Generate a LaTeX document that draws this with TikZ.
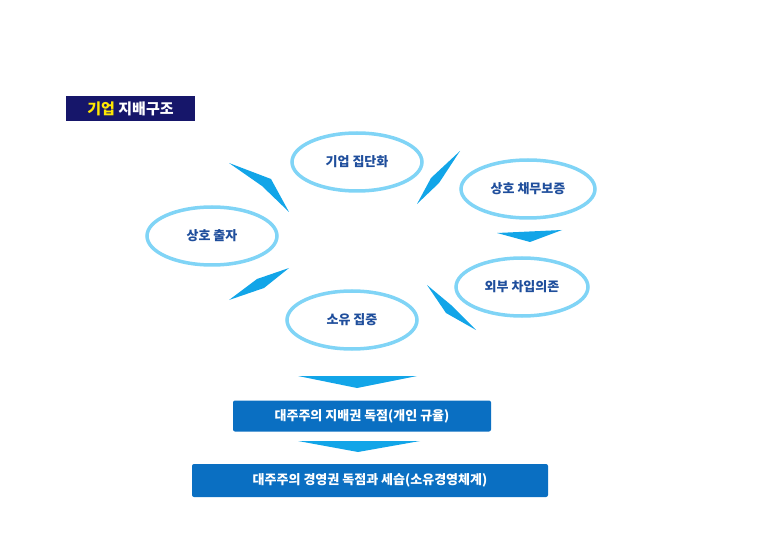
\documentclass[tikz,border=0pt]{standalone}
\usepackage{fontspec}
\setmainfont{Noto Sans CJK KR}
\usetikzlibrary{shapes.geometric}
\definecolor{ringblue}{HTML}{80D4F6}
\definecolor{textblue}{HTML}{1F4E9C}
\definecolor{arrowblue}{HTML}{12A5E8}
\definecolor{boxblue}{HTML}{0A6FC2}
\definecolor{navy}{HTML}{16166A}
\begin{document}
\begin{tikzpicture}[x=1pt,y=-1pt,
    ring/.style={ellipse, draw=ringblue, line width=3.5pt, fill=white, text=textblue,
        font=\bfseries\fontsize{13}{15}\selectfont, minimum width=130pt, minimum height=58pt},
    kite/.style={fill=arrowblue},
    result/.style={fill=boxblue, rounded corners=2pt, text=white,
        font=\bfseries\fontsize{13}{15}\selectfont, minimum height=31pt}]
    \useasboundingbox (0,0) rectangle (760,537);

    % Title
    \node[fill=navy, minimum width=129pt, minimum height=25pt, font=\bfseries\fontsize{15}{17}\selectfont]
        (title) at (130.5,108.5) {\textcolor{yellow!90!orange}{기업} \textcolor{white}{지배구조}};

    % Cycle
    \node[ring] (group) at (357,162) {기업 집단화};
    \node[ring, minimum width=134pt] (guar) at (528,189) {상호 채무보증};
    \node[ring] (cross) at (212,236) {상호 출자};
    \node[ring, minimum width=132pt] (debt) at (522,287) {외부 차입의존};
    \node[ring] (own) at (352,320) {소유 집중};

    % Arrows between rings
    \fill[kite] (229,163) -- (271,179) -- (289,212) -- (262,186) -- cycle;
    \fill[kite] (460,151) -- (439,183) -- (417,204) -- (431,178) -- cycle;
    \fill[kite] (497,233) -- (562,230) -- (530,242) -- cycle;
    \fill[kite] (427,285) -- (451,305) -- (476,330) -- (446,313) -- cycle;
    \fill[kite] (229,300) -- (257,279) -- (289,268) -- (264,288) -- cycle;

    % Results
    \fill[kite] (298,376) -- (417,376) -- (357,388) -- cycle;
    \node[result, minimum width=258pt] (rule) at (362,416) {대주주의 지배권 독점(개인 규율)};
    \fill[kite] (298,441) -- (420,441) -- (358,452) -- cycle;
    \node[result, minimum width=356pt, minimum height=33pt] (heir) at (370,480.5) {대주주의 경영권 독점과 세습(소유경영체계)};
\end{tikzpicture}
\end{document}
